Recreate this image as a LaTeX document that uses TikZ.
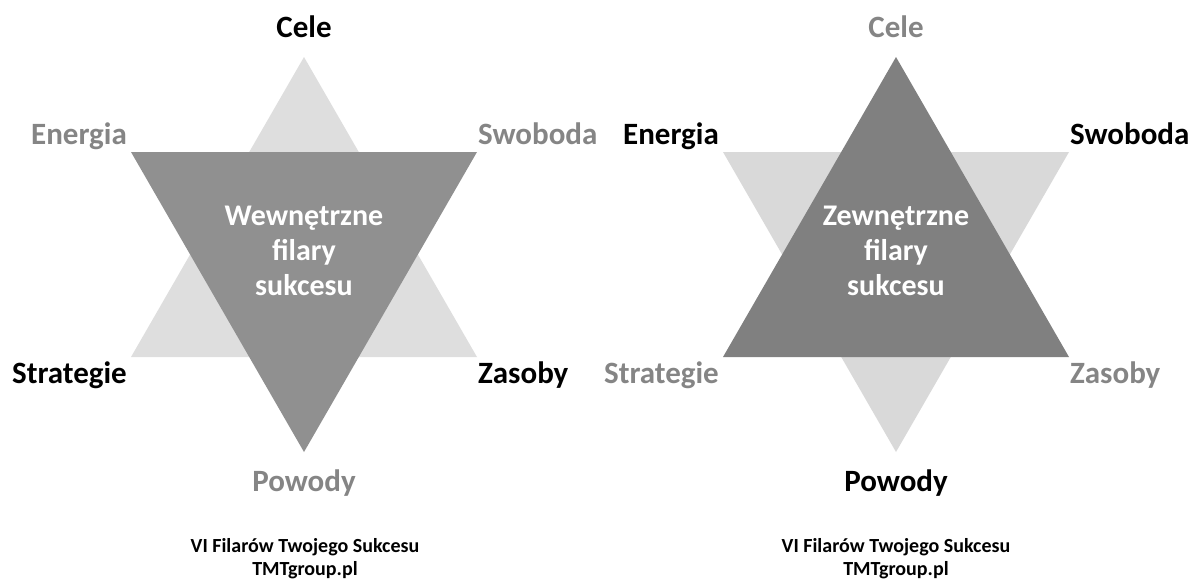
\documentclass[tikz,border=0pt]{standalone}
\usepackage{fontspec}
\setmainfont{Carlito}
\definecolor{lightL}{HTML}{DEDEDE}
\definecolor{darkL}{HTML}{909090}
\definecolor{lightR}{HTML}{D9D9D9}
\definecolor{darkR}{HTML}{808080}
\definecolor{txtgray}{HTML}{858585}
\tikzset{
  lbl/.style={font=\fontsize{31}{34}\selectfont\bfseries, inner sep=0pt},
  ctr/.style={font=\fontsize{30}{35}\selectfont\bfseries, text=white, align=center, inner sep=0pt},
  foot/.style={font=\fontsize{20}{22.5}\selectfont\bfseries, align=center, inner sep=0pt},
}
\begin{document}
\begin{tikzpicture}[x=1pt,y=-1pt]
\useasboundingbox (0,0) rectangle (1192,581);
% left star
\fill[lightL] (304,57) -- (477,357) -- (131,357) -- cycle;
\fill[darkL] (131,152) -- (477,152) -- (304,452) -- cycle;
% right star
\fill[lightR] (723,152) -- (1069,152) -- (896,452) -- cycle;
\fill[darkR] (896,57) -- (1069,357) -- (723,357) -- cycle;

% left labels
\node[lbl, anchor=base] (celeL) at (304,37) {Cele};
\node[lbl, anchor=base east, text=txtgray] (enL) at (127,144) {Energia};
\node[lbl, anchor=base west, text=txtgray] (swL) at (478,144) {Swoboda};
\node[lbl, anchor=base east] (stL) at (127,383) {Strategie};
\node[lbl, anchor=base west] (zaL) at (478,383) {Zasoby};
\node[lbl, anchor=base, text=txtgray] (poL) at (304,491) {Powody};
\node[ctr, anchor=base] (cL) at (304,295) {Wewnętrzne\\filary\\sukcesu};
\node[foot, anchor=base] (fL) at (305,575) {VI Filarów Twojego Sukcesu\\TMTgroup.pl};

% right labels
\node[lbl, anchor=base, text=txtgray] (celeR) at (896,37) {Cele};
\node[lbl, anchor=base east] (enR) at (719,144) {Energia};
\node[lbl, anchor=base west] (swR) at (1070,144) {Swoboda};
\node[lbl, anchor=base east, text=txtgray] (stR) at (719,383) {Strategie};
\node[lbl, anchor=base west, text=txtgray] (zaR) at (1070,383) {Zasoby};
\node[lbl, anchor=base] (poR) at (896,491) {Powody};
\node[ctr, anchor=base] (cR) at (896,295) {Zewnętrzne\\filary\\sukcesu};
\node[foot, anchor=base] (fR) at (896,575) {VI Filarów Twojego Sukcesu\\TMTgroup.pl};
\end{tikzpicture}
\end{document}
